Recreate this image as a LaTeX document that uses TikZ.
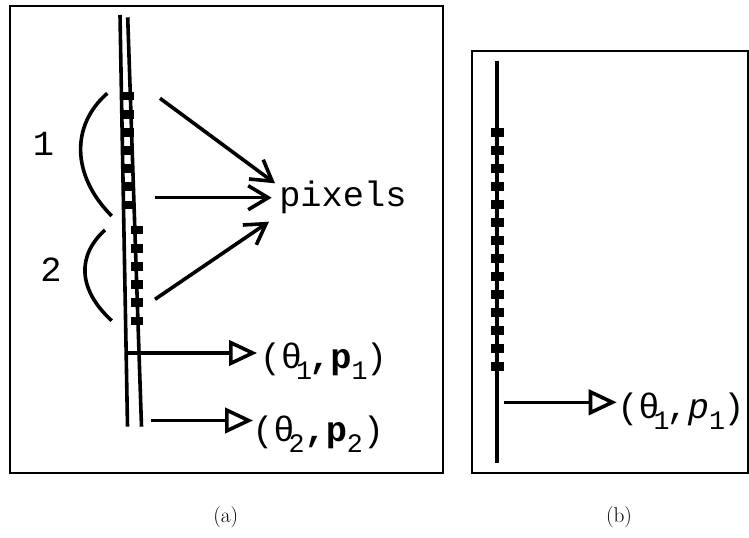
\documentclass[tikz,border=0pt]{standalone}
\usepackage{fontspec}
\newfontfamily\monofam{Liberation Mono}
\usetikzlibrary{arrows.meta}
\newcommand\subsc[2][0.37em]{\kern-0.17em\rlap{\raisebox{-8.5pt}{\mdseries\upshape\fontsize{20}{20}\selectfont #2}}\kern#1}
\newcommand\subsp[2][0.4em]{\rlap{\raisebox{-8.5pt}{\mdseries\upshape\fontsize{20}{20}\selectfont #2}}\kern#1}
\begin{document}
\begin{tikzpicture}[x=0.75pt,y=-0.75pt,
  heavy/.style={line width=2.7pt},
  frame/.style={line width=1.5pt},
  pixbox/.style={fill=black},
  pixarrow/.style={line width=2.7pt,-{Straight Barb[length=15pt,width=18pt]}},
  outarrow/.style={line width=2.7pt,-{Triangle[open,length=21pt,width=19pt]}},
  lbl/.style={font=\monofam\fontsize{26.5}{28}\selectfont, inner sep=0pt},
  captext/.style={font=\fontsize{16}{18}\selectfont, inner sep=0pt, anchor=base},
]
\useasboundingbox (0,0) rectangle (749,538);

% ---------- panel (a) ----------
\draw[frame] (10,6) rectangle (443,473);

\coordinate (laTop) at (120,15);
\coordinate (laBot) at (127.5,426.7);
\coordinate (lbTop) at (127.7,17.3);
\coordinate (lbBot) at (141.5,426.7);
\draw[heavy] (laTop) -- (laBot);
\draw[heavy] (lbTop) -- (lbBot);

\foreach \k in {0,...,6}
  \fill[pixbox] (121.7,{92+18.1*\k}) rectangle ++(12.6,8.5);
\foreach \k in {0,...,5}
  \fill[pixbox] (130.7,{226+18.1*\k}) rectangle ++(12.6,8.5);

% brackets
\coordinate (b1s) at (107.3,93.3);
\coordinate (b1e) at (111.7,216);
\coordinate (b2s) at (105,230);
\coordinate (b2e) at (111.7,320.7);
\draw[heavy] (b1s) .. controls (71,125) and (71,175) .. (b1e);
\draw[heavy] (b2s) .. controls (77.2,255) and (77.2,289) .. (b2e);

\node[lbl] (one) at (43.5,144) {1};
\node[lbl] (two) at (51,269.5) {2};

% pixels
\node[lbl, anchor=base west] (pix) at (279,207) {pixels};
\coordinate (p1s) at (160,98.3);
\coordinate (p1e) at (275,183.3);
\coordinate (p2s) at (155,197.7);
\coordinate (p2e) at (271.7,197.7);
\coordinate (p3s) at (155,299.3);
\coordinate (p3e) at (269,221.7);
\draw[pixarrow] (p1s) -- (p1e);
\draw[pixarrow] (p2s) -- (p2e);
\draw[pixarrow] (p3s) -- (p3e);

% parameter arrows
\coordinate (q1s) at (127,353);
\coordinate (q1e) at (257,353);
\coordinate (q2s) at (151,420.5);
\coordinate (q2e) at (253,420.5);
\draw[outarrow] (q1s) -- (q1e);
\draw[outarrow] (q2s) -- (q2e);
\node[lbl, anchor=base west] (par1) at (259.5,368.5) {(θ\subsc{1}{\bfseries ,p}\subsp{1})};
\node[lbl, anchor=base west] (par2) at (252,441) {(θ\subsc[0.45em]{2}{\bfseries ,p}\subsp[0.45em]{2})};

\node[captext] (capa) at (225.8,522) {(a)};

% ---------- panel (b) ----------
\draw[frame] (472,50.7) rectangle (748,472.7);
\coordinate (lcTop) at (496.7,60.7);
\coordinate (lcBot) at (496.7,463);
\draw[heavy] (lcTop) -- (lcBot);
\foreach \k in {0,...,13}
  \fill[pixbox] (490.7,{128.2+18*\k}) rectangle ++(13.3,9);
\coordinate (q3s) at (504,402.3);
\coordinate (q3e) at (616.7,402.3);
\draw[outarrow] (q3s) -- (q3e);
\node[lbl, anchor=base west] (par3) at (617,418) {(θ\subsc{1},{\itshape p}\subsp{1})};

\node[captext] (capb) at (619,522) {(b)};
\end{tikzpicture}
\end{document}
